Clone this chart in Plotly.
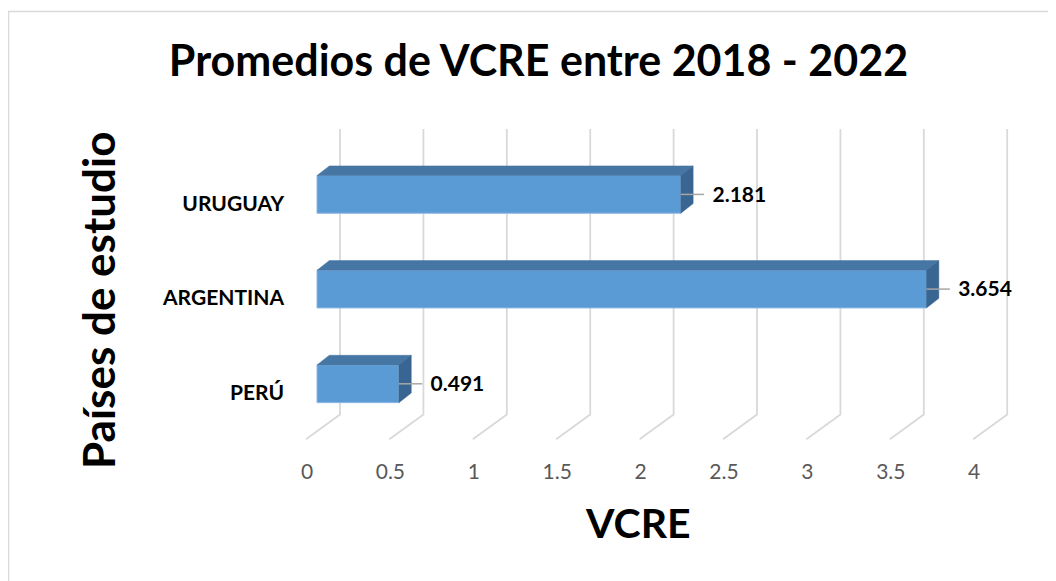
import plotly.graph_objects as go

# ---- data ----
countries = ["PERÚ", "ARGENTINA", "URUGUAY"]
vcre = [0.491, 3.654, 2.181]
value_labels = ["0.491", "3.654", "2.181"]
x_ticks = [0, 0.5, 1, 1.5, 2, 2.5, 3, 3.5, 4]
x_tick_labels = ["0", "0.5", "1", "1.5", "2", "2.5", "3", "3.5", "4"]

title_text = "Promedios de VCRE entre 2018 - 2022"
x_title = "VCRE"
y_title = "Países de estudio"

# ---- layout geometry (screen pixels; page body adds an 8px offset) ----
OFF = 8
SW, SH = 1056, 581
W, H = SW - OFF, SH - OFF
PL, PR, PT, PB = 290, 1040, 110, 450   # plot area on screen
X0PX, XSCALE = 317.0, 166.8      # px of value 0 on bar front face, px per unit
Y0PX, YSCALE = 383.8, 94.7       # px of first category centre, px per category

x_lo = (PL - X0PX) / XSCALE
x_hi = (PR - X0PX) / XSCALE
y_lo = (Y0PX - PB) / YSCALE
y_hi = (Y0PX - PT) / YSCALE

# 3D offsets in data units
HALF = 0.199           # half bar thickness (category units)
DX, DY = 0.074, 0.102  # bar depth
WALL_DX = 0.138        # back-wall shift
FLOOR_DX = -0.066      # front floor shift
WALL_TOP = 2.69
WALL_BOT = -0.324
FLOOR_FRONT = -0.586

FONT = "Lato"
grid_col = "#d9d9d9"
front_col = "#5b9bd5"
top_col = "#4676a4"
side_col = "#386591"

fig = go.Figure()
ypos = list(range(len(countries)))

# gridlines on back wall + floor (drawn below traces)
shapes = []
for t in x_ticks:
    shapes.append(dict(type="path", xref="x", yref="y", layer="below",
                       path=f"M {t + WALL_DX},{WALL_TOP} L {t + WALL_DX},{WALL_BOT} L {t + FLOOR_DX},{FLOOR_FRONT}",
                       line=dict(color=grid_col, width=1.8)))

# front faces
fig.add_trace(go.Bar(
    y=ypos, x=vcre, orientation="h", width=2 * HALF, base=0,
    marker=dict(color=front_col, line=dict(color="#8db6e3", width=1)),
    hoverinfo="skip", showlegend=False))

# top and side faces
for c, v in zip(ypos, vcre):
    fig.add_trace(go.Scatter(
        x=[0, v, v + DX, DX, 0],
        y=[c + HALF, c + HALF, c + HALF + DY, c + HALF + DY, c + HALF],
        mode="lines", fill="toself", fillcolor=top_col,
        line=dict(color=top_col, width=0.5),
        hoverinfo="skip", showlegend=False))
    fig.add_trace(go.Scatter(
        x=[v, v + DX, v + DX, v, v],
        y=[c - HALF, c - HALF + DY, c + HALF + DY, c + HALF, c - HALF],
        mode="lines", fill="toself", fillcolor=side_col,
        line=dict(color=side_col, width=0.5),
        hoverinfo="skip", showlegend=False))
    # leader line
    fig.add_trace(go.Scatter(
        x=[v, v + 0.14], y=[c, c], mode="lines",
        line=dict(color="#a6a6a6", width=1.5),
        hoverinfo="skip", showlegend=False))

# data labels
fig.add_trace(go.Scatter(
    x=[v + 0.19 for v in vcre], y=[c - 0.02 for c in ypos], mode="text",
    text=[f"<b>{s}</b>" for s in value_labels], textposition="middle right",
    textfont=dict(family=FONT, size=21, color="#000000"),
    hoverinfo="skip", showlegend=False))

fig.update_xaxes(
    range=[x_lo, x_hi], showgrid=False, zeroline=False, showline=False,
    tickmode="array", tickvals=[t + FLOOR_DX + 0.006 for t in x_ticks],
    ticktext=x_tick_labels, ticks="", ticklabelstandoff=7,
    tickfont=dict(family=FONT, size=21, color="#595959"), automargin=False)
fig.update_yaxes(
    range=[y_lo, y_hi], showgrid=False, zeroline=False, showline=False,
    tickmode="array", tickvals=[c - 0.095 for c in ypos],
    ticktext=[f"<b>{s}</b>" for s in countries], ticks="", ticklabelstandoff=5,
    tickfont=dict(family=FONT, size=21, color="#000000"), automargin=False)

def sx(px):  # screen px -> paper x
    return (px - PL) / (PR - PL)

def sy(py):  # screen px -> paper y
    return (PB - py) / (PB - PT)

shapes.append(dict(type="rect", xref="paper", yref="paper",
                   x0=sx(8.5), x1=sx(SW + 20), y0=sy(SH + 20), y1=sy(11.5),
                   line=dict(color="#d9d9d9", width=1.5), layer="below"))

fig.update_layout(
    width=W, height=H,
    margin=dict(l=PL - OFF, r=W - (PR - OFF), t=PT - OFF, b=H - (PB - OFF)),
    paper_bgcolor="white", plot_bgcolor="white",
    title=dict(text=f"<b>{title_text}</b>", x=(538.5 - OFF) / W, y=1 - (61 - OFF) / H,
               xanchor="center", yanchor="middle", xref="container", yref="container",
               font=dict(family=FONT, size=43, color="#000000")),
    annotations=[
        dict(text=f"<b>{x_title}</b>", x=sx(638), y=sy(522),
             xref="paper", yref="paper", xanchor="center", yanchor="middle",
             showarrow=False, font=dict(family=FONT, size=41, color="#000000")),
        dict(text=f"<b>{y_title}</b>", x=sx(98), y=sy(300),
             xref="paper", yref="paper", xanchor="center", yanchor="middle",
             textangle=-90, showarrow=False,
             font=dict(family=FONT, size=44, color="#000000")),
    ],
    shapes=shapes,
)

fig.write_html("out.html")
